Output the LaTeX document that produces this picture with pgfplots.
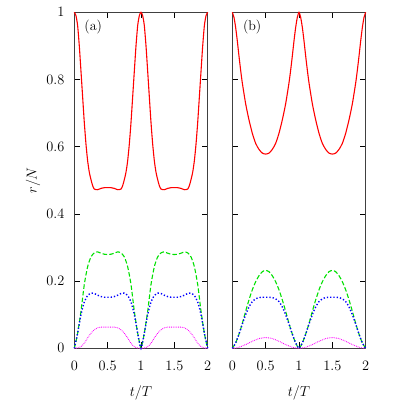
\documentclass[border=0pt]{standalone}
\usepackage{pgfplots}
\pgfplotsset{compat=1.18}
\definecolor{gpred}{RGB}{255,0,0}
\definecolor{gpgreen}{RGB}{0,224,0}
\definecolor{gpblue}{RGB}{0,0,255}
\definecolor{gpmag}{RGB}{255,0,255}
\pgfplotsset{
  myax/.style={
    scale only axis, width=133.4bp, height=336bp,
    xmin=0, xmax=2, ymin=0, ymax=1,
    xtick={0,0.5,1,1.5,2}, ytick={0,0.2,0.4,0.6,0.8,1},
    tick align=inside, major tick length=6bp,
    tick style={black, line width=0.6pt},
    axis line style={black!75, line width=0.9pt},
    ticklabel style={font=\fontsize{14bp}{16bp}\selectfont},
    xticklabel style={yshift=-9bp},
    yticklabel style={xshift=-6.5bp},
    label style={font=\fontsize{15.5bp}{18bp}\selectfont},
    xlabel={$t/T$},
    every axis x label/.append style={at={(axis description cs:0.5,-0.133)}, anchor=center},
    clip=false,
  },
  redl/.style={gpred, line width=1.1pt, smooth, tension=0.4},
  greenl/.style={gpgreen, line width=1.1pt, dash pattern=on 4.5bp off 2.2bp, smooth, tension=0.4},
  bluel/.style={gpblue, line width=1.4pt, dash pattern=on 1.3bp off 2bp, smooth, tension=0.4},
  magl/.style={gpmag, line width=0.9pt, dash pattern=on 0.8bp off 1bp, smooth, tension=0.4},
}
\begin{document}
\begin{tikzpicture}
\path[use as bounding box] (-74.3bp,-66.7bp) rectangle (324.7bp,348.3bp);
\begin{axis}[myax, at={(0,0)}, anchor=south west,
  ylabel={$r/N$},
  every axis y label/.append style={at={(axis description cs:-0.31,0.5)}, anchor=center}]
\addplot[redl] coordinates {(0,1.000)(0.025,0.990)(0.05,0.960)(0.075,0.900)(0.1,0.825)(0.125,0.748)(0.15,0.672)(0.175,0.608)(0.2,0.558)(0.225,0.524)(0.25,0.502)(0.275,0.484)(0.3,0.474)(0.35,0.472)(0.4,0.476)(0.45,0.478)(0.5,0.478)(0.55,0.478)(0.6,0.476)(0.65,0.472)(0.7,0.474)(0.725,0.484)(0.75,0.502)(0.775,0.524)(0.8,0.558)(0.825,0.608)(0.85,0.672)(0.875,0.748)(0.9,0.825)(0.925,0.900)(0.95,0.960)(0.975,0.990)(1,1.000)(1.025,0.990)(1.05,0.960)(1.075,0.900)(1.1,0.825)(1.125,0.748)(1.15,0.672)(1.175,0.608)(1.2,0.558)(1.225,0.524)(1.25,0.502)(1.275,0.484)(1.3,0.474)(1.35,0.472)(1.4,0.476)(1.45,0.478)(1.5,0.478)(1.55,0.478)(1.6,0.476)(1.65,0.472)(1.7,0.474)(1.725,0.484)(1.75,0.502)(1.775,0.524)(1.8,0.558)(1.825,0.608)(1.85,0.672)(1.875,0.748)(1.9,0.825)(1.925,0.900)(1.95,0.960)(1.975,0.990)(2,1.000)};
\addplot[greenl] coordinates {(0,0)(0.025,0.020)(0.05,0.045)(0.1,0.110)(0.15,0.190)(0.2,0.243)(0.25,0.272)(0.3,0.284)(0.35,0.287)(0.4,0.283)(0.45,0.280)(0.5,0.279)(0.55,0.280)(0.6,0.283)(0.65,0.287)(0.7,0.284)(0.75,0.272)(0.8,0.243)(0.85,0.190)(0.9,0.110)(0.95,0.045)(0.975,0.020)(1,0)(1.025,0.020)(1.05,0.045)(1.1,0.110)(1.15,0.190)(1.2,0.243)(1.25,0.272)(1.3,0.284)(1.35,0.287)(1.4,0.283)(1.45,0.280)(1.5,0.279)(1.55,0.280)(1.6,0.283)(1.65,0.287)(1.7,0.284)(1.75,0.272)(1.8,0.243)(1.85,0.190)(1.9,0.110)(1.95,0.045)(1.975,0.020)(2,0)};
\addplot[bluel] coordinates {(0,0)(0.05,0.045)(0.1,0.100)(0.15,0.138)(0.2,0.157)(0.25,0.164)(0.3,0.163)(0.35,0.158)(0.4,0.154)(0.45,0.152)(0.5,0.152)(0.55,0.152)(0.6,0.154)(0.65,0.158)(0.7,0.163)(0.75,0.164)(0.8,0.157)(0.85,0.138)(0.9,0.100)(0.95,0.045)(1,0)(1.05,0.045)(1.1,0.100)(1.15,0.138)(1.2,0.157)(1.25,0.164)(1.3,0.163)(1.35,0.158)(1.4,0.154)(1.45,0.152)(1.5,0.152)(1.55,0.152)(1.6,0.154)(1.65,0.158)(1.7,0.163)(1.75,0.164)(1.8,0.157)(1.85,0.138)(1.9,0.100)(1.95,0.045)(2,0)};
\addplot[magl] coordinates {(0,0)(0.05,0.001)(0.1,0.005)(0.15,0.015)(0.2,0.031)(0.25,0.045)(0.3,0.055)(0.35,0.061)(0.4,0.063)(0.45,0.063)(0.5,0.063)(0.55,0.063)(0.6,0.063)(0.65,0.061)(0.7,0.055)(0.75,0.045)(0.8,0.031)(0.85,0.015)(0.9,0.005)(0.95,0.001)(1,0)(1.05,0.001)(1.1,0.005)(1.15,0.015)(1.2,0.031)(1.25,0.045)(1.3,0.055)(1.35,0.061)(1.4,0.063)(1.45,0.063)(1.5,0.063)(1.55,0.063)(1.6,0.063)(1.65,0.061)(1.7,0.055)(1.75,0.045)(1.8,0.031)(1.85,0.015)(1.9,0.005)(1.95,0.001)(2,0)};
\node[font=\fontsize{14bp}{16bp}\selectfont] at (rel axis cs:0.142,0.957) {(a)};
\end{axis}
\begin{axis}[myax, at={(158bp,0)}, anchor=south west, yticklabels={}]
\addplot[redl] coordinates {(0,1.000)(0.025,0.985)(0.05,0.955)(0.075,0.915)(0.1,0.870)(0.125,0.828)(0.15,0.790)(0.2,0.728)(0.25,0.680)(0.3,0.640)(0.35,0.610)(0.4,0.592)(0.45,0.581)(0.5,0.578)(0.55,0.581)(0.6,0.592)(0.65,0.610)(0.7,0.640)(0.75,0.680)(0.8,0.728)(0.85,0.790)(0.875,0.828)(0.9,0.870)(0.925,0.915)(0.95,0.955)(0.975,0.985)(1,1.000)(1.025,0.985)(1.05,0.955)(1.075,0.915)(1.1,0.870)(1.125,0.828)(1.15,0.790)(1.2,0.728)(1.25,0.680)(1.3,0.640)(1.35,0.610)(1.4,0.592)(1.45,0.581)(1.5,0.578)(1.55,0.581)(1.6,0.592)(1.65,0.610)(1.7,0.640)(1.75,0.680)(1.8,0.728)(1.85,0.790)(1.875,0.828)(1.9,0.870)(1.925,0.915)(1.95,0.955)(1.975,0.985)(2,1.000)};
\addplot[greenl] coordinates {(0,0)(0.05,0.016)(0.1,0.042)(0.15,0.074)(0.2,0.110)(0.25,0.144)(0.3,0.174)(0.35,0.198)(0.4,0.216)(0.45,0.228)(0.5,0.232)(0.55,0.228)(0.6,0.216)(0.65,0.198)(0.7,0.174)(0.75,0.144)(0.8,0.110)(0.85,0.074)(0.9,0.042)(0.95,0.016)(1,0)(1.05,0.016)(1.1,0.042)(1.15,0.074)(1.2,0.110)(1.25,0.144)(1.3,0.174)(1.35,0.198)(1.4,0.216)(1.45,0.228)(1.5,0.232)(1.55,0.228)(1.6,0.216)(1.65,0.198)(1.7,0.174)(1.75,0.144)(1.8,0.110)(1.85,0.074)(1.9,0.042)(1.95,0.016)(2,0)};
\addplot[bluel] coordinates {(0,0)(0.05,0.016)(0.1,0.042)(0.15,0.072)(0.2,0.100)(0.25,0.123)(0.3,0.139)(0.35,0.147)(0.4,0.151)(0.45,0.152)(0.5,0.152)(0.55,0.152)(0.6,0.151)(0.65,0.147)(0.7,0.139)(0.75,0.123)(0.8,0.100)(0.85,0.072)(0.9,0.042)(0.95,0.016)(1,0)(1.05,0.016)(1.1,0.042)(1.15,0.072)(1.2,0.100)(1.25,0.123)(1.3,0.139)(1.35,0.147)(1.4,0.151)(1.45,0.152)(1.5,0.152)(1.55,0.152)(1.6,0.151)(1.65,0.147)(1.7,0.139)(1.75,0.123)(1.8,0.100)(1.85,0.072)(1.9,0.042)(1.95,0.016)(2,0)};
\addplot[magl] coordinates {(0,0)(0.05,0.001)(0.1,0.003)(0.15,0.007)(0.2,0.011)(0.25,0.016)(0.3,0.021)(0.35,0.025)(0.4,0.029)(0.45,0.031)(0.5,0.032)(0.55,0.031)(0.6,0.029)(0.65,0.025)(0.7,0.021)(0.75,0.016)(0.8,0.011)(0.85,0.007)(0.9,0.003)(0.95,0.001)(1,0)(1.05,0.001)(1.1,0.003)(1.15,0.007)(1.2,0.011)(1.25,0.016)(1.3,0.021)(1.35,0.025)(1.4,0.029)(1.45,0.031)(1.5,0.032)(1.55,0.031)(1.6,0.029)(1.65,0.025)(1.7,0.021)(1.75,0.016)(1.8,0.011)(1.85,0.007)(1.9,0.003)(1.95,0.001)(2,0)};
\node[font=\fontsize{14bp}{16bp}\selectfont] at (rel axis cs:0.149,0.957) {(b)};
\end{axis}
\end{tikzpicture}
\end{document}
